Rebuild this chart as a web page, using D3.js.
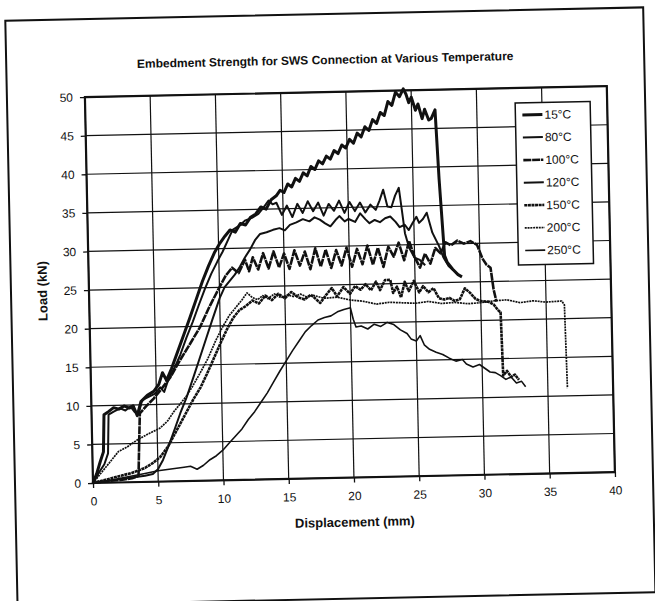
<!DOCTYPE html>
<html><head><meta charset="utf-8">
<script src="https://cdn.jsdelivr.net/npm/d3@7"></script>
<style>
body{margin:0;background:#fff}
svg{display:block}
text{font-family:"Liberation Sans",Arial,Helvetica,sans-serif;fill:#111}
</style>
</head><body>
<svg id="chart" width="655" height="601"></svg>
<script>
const titleText = "Embedment Strength for SWS Connection at Various Temperature";
const xTitle = "Displacement (mm)";
const yTitle = "Load (kN)";
const xTicks = [0,5,10,15,20,25,30,35,40];
const yTicks = [0,5,10,15,20,25,30,35,40,45,50];
const seriesNames = ["15°C","80°C","100°C","120°C","150°C","200°C","250°C"];

const s15 = [[0,0],[0.3,1.2],[0.6,2.8],[0.85,4],[0.95,8.8],[1.3,9.2],[1.7,9.7],[2.1,9.5],[2.5,9.9],[2.9,9.6],[3.2,9.9],[3.5,8.6],[3.8,10.4],[4.3,11.2],[4.8,11.7],[5.2,12.6],[5.5,14.1],[5.8,13.1],[6.2,14.6],[6.7,16.8],[7.2,19],[7.7,21.2],[8.2,23.5],[8.7,25.8],[9.2,27.8],[9.7,29.6],[10.1,30.7],[10.5,31.6],[10.9,32.4],[11.3,32.1],[11.7,33.2],[12.1,33],[12.5,34],[12.9,34.4],[13.3,35.3],[13.7,35],[14.1,36.2],[14.5,36.7],[14.8,37.4],[15.1,37.1],[15.4,38.2],[15.7,37.8],[16,38.9],[16.3,38.5],[16.6,39.6],[16.9,39.2],[17.2,40.4],[17.5,40],[17.8,41.1],[18.1,40.7],[18.4,41.7],[18.7,41.3],[19,42.4],[19.3,42],[19.6,43.1],[19.9,42.7],[20.2,43.8],[20.5,43.3],[20.8,44.6],[21.1,44.1],[21.4,45.4],[21.7,44.9],[22,46.3],[22.3,45.8],[22.6,47.2],[22.9,46.8],[23.2,48.6],[23.5,48.1],[23.8,49.8],[24.1,49.2],[24.4,50.2],[24.6,49.5],[24.8,48.4],[25,49.1],[25.3,47.4],[25.5,48.2],[25.8,46.3],[26,47.5],[26.3,46.1],[26.5,46.3],[26.8,47.4],[27.0,38.5],[27.3,28.5],[27.5,27.6],[27.9,26.7],[28.3,26],[28.6,25.7]];

const s80 = [[0,0],[0.5,1.4],[0.9,2.4],[1.2,3.8],[1.3,8.8],[1.7,9.2],[2.2,9.6],[2.6,9.3],[3.0,9.8],[3.3,9.1],[3.6,8.8],[3.9,10.6],[4.4,11],[4.9,11.4],[5.3,12.2],[5.6,11.6],[5.9,13],[6.4,14.6],[6.9,16.4],[7.4,18.6],[7.9,20.6],[8.4,22.8],[8.9,24.9],[9.4,26.8],[9.9,28.4],[10.3,29.6],[10.7,31],[11.1,32.4],[11.6,32.9],[12.1,33.6],[12.6,33.9],[13.1,34.4],[13.5,35.2],[13.9,36.1],[14.2,35.6],[14.5,35.8],[14.9,34.2],[15.3,35.4],[15.7,33.9],[16.1,35.6],[16.5,34.4],[16.9,35.9],[17.3,34.6],[17.7,35.7],[18.1,34],[18.5,35.5],[18.9,34.6],[19.3,35.9],[19.7,34.3],[20.1,35.7],[20.5,34.5],[20.9,35.6],[21.3,34.3],[21.7,35.3],[22.1,34.6],[22.4,35.8],[22.7,37.2],[23,35],[23.3,34.9],[23.6,36.4],[23.9,37.4],[24.1,34.5],[24.3,31.5],[24.6,29.6],[25,28.3],[25.4,28],[25.8,27.3]];

const s100 = [[0,0],[1,0.2],[2,0.3],[3,0.5],[3.5,0.8],[3.6,5],[3.7,8.9],[4.2,9.8],[4.8,10.8],[5.4,12],[6.1,13.5],[6.8,15.5],[7.6,17.6],[8.45,19.9],[9.2,22.5],[10,25],[10.5,26.5],[11,27.5],[11.5,26.8],[12,28.5],[12.3,27],[12.6,28.8],[13,27.2],[13.4,29.3],[13.8,27.3],[14.2,29.5],[14.6,27.4],[15,29.2],[15.4,27.2],[15.8,29.6],[16.2,27.6],[16.6,29.4],[17,27.1],[17.4,29.8],[17.8,27.4],[18.2,29.6],[18.6,27.2],[19,29.5],[19.4,27.5],[19.8,29.8],[20.2,27.3],[20.6,29.6],[21,27.6],[21.4,30],[21.8,27.5],[22.2,29.7],[22.6,27.2],[23,29.8],[23.4,28.5],[23.8,30.3],[24.2,28],[24.6,30.5],[25,28.4],[25.4,27],[25.8,28.8],[26.2,27.5],[26.6,29.5],[27,28.8],[27.4,30.2],[27.8,29.8],[28.3,30.4],[28.8,30],[29.3,30.3],[29.8,29.8],[30.2,28],[30.5,27.2],[30.8,26.8],[31,24],[31.2,22.4]];

const s120 = [[0,0],[1,0.2],[2,0.4],[3,0.6],[4,0.8],[4.6,1],[5,1.6],[5.4,2.8],[5.9,4.8],[6.4,7],[6.8,8.8],[7.3,10.8],[7.9,13.6],[8.4,16],[8.9,18.4],[9.4,20.8],[10,23.6],[10.4,25],[10.8,25.8],[11.2,26.6],[11.6,27.6],[12,28.8],[12.4,29.8],[12.8,31],[13.2,31.8],[13.7,32],[14.2,32.3],[14.7,32.5],[15.1,32.2],[15.5,32.9],[16,33.2],[16.5,33.6],[17,33.3],[17.4,33.8],[17.8,33.5],[18.2,33],[18.6,32.6],[19,33.4],[19.3,33.9],[19.7,33.2],[20,33.5],[20.5,33.1],[20.9,34.2],[21.3,33.4],[21.6,32.9],[22,33.3],[22.4,33],[22.8,33.5],[23.2,33.7],[23.6,33],[23.9,32.3],[24.3,32.6],[24.6,31.9],[24.9,32.8],[25.2,33.6],[25.4,32.8],[25.7,33.3],[26,34.1],[26.4,31.5],[26.9,29.7],[27.2,28.3],[27.6,27.1],[28,26.5]];

const s150 = [[0,0],[1,0.4],[2,0.8],[3,1.2],[4,1.8],[4.6,2.4],[5.2,3.2],[5.8,4.5],[6.3,6],[6.8,7.5],[7.3,9],[7.8,10.5],[8.4,12.1],[8.9,13.8],[9.4,15.6],[10,17.8],[10.5,19.5],[11,21],[11.5,22],[12,22.5],[12.5,23.2],[13,22.8],[13.5,23.8],[14,23.2],[14.5,24],[15,23.4],[15.5,24.2],[16,23.5],[16.5,23.2],[17,23.8],[17.7,22.7],[18.2,23.8],[18.6,24.6],[19,23.5],[19.5,24.7],[20,23.8],[20.4,24.8],[20.8,24.3],[21.2,25],[21.6,24.2],[22,25.3],[22.3,24.2],[22.7,25.5],[23.1,25.5],[23.3,23.8],[23.6,24.6],[23.9,23.2],[24.2,25.2],[24.5,24],[24.9,25.3],[25.3,23.8],[25.6,24.6],[26,23.8],[26.4,24.3],[26.8,23],[27.2,22.8],[27.6,23],[28,22.6],[28.4,22.8],[28.8,24.2],[29.2,23.6],[29.6,22.8],[30,22.5],[30.6,22.4],[31,22],[31.3,21.3],[31.5,21],[31.6,12.8],[31.9,13.4],[32.2,12.6],[32.5,12.9],[32.8,12.2]];

const s200 = [[0,0],[0.5,1],[1,2],[1.5,3],[2,4],[2.7,4.6],[3.5,5.5],[4.3,6.2],[5.2,6.9],[5.8,7.8],[6.3,9],[6.8,10],[7.3,11],[7.8,12.3],[8.4,14],[9,15.8],[9.6,18],[10.2,19.9],[10.7,21.3],[11.2,22.3],[11.7,23.3],[12.1,24.2],[12.5,23.6],[12.9,23.3],[13.3,23.8],[13.7,23.4],[14.2,24],[14.7,23.5],[15.2,23.8],[15.7,23.6],[16.2,23.9],[16.7,23.5],[17.2,23.7],[18,23.3],[19,23.4],[20,23],[21,22.8],[22,22.4],[23,22.6],[24,22.5],[25,22.4],[26,22.6],[27,22.3],[28,22.4],[29,22.2],[30,22.3],[31,22.5],[32,22.6],[33,22.2],[34,22.4],[35,22.2],[36.2,22.3],[36.4,21.8],[36.5,11]];

const s250 = [[0,0],[1,0.2],[2,0.5],[3,0.8],[4,1.1],[5,1.4],[6,1.6],[7,1.8],[7.5,1.9],[8,1.5],[8.5,2],[9,2.7],[9.5,3.2],[10,3.9],[10.5,4.8],[11,5.7],[11.5,6.6],[12,7.8],[12.5,8.8],[13,10],[13.5,11.2],[14,12.6],[14.5,14],[15,15.3],[15.5,16.6],[16,17.8],[16.5,19],[17,19.8],[17.5,20.5],[18,20.8],[18.5,21],[19,21.5],[19.5,21.8],[20,22],[20.2,20.5],[20.4,19.5],[20.8,19.6],[21.3,19.2],[21.8,19.8],[22.3,19.5],[22.8,20],[23.3,19.7],[23.8,19],[24.3,18.5],[24.6,17.8],[25.0,17.5],[25.3,18.2],[25.6,17],[26,16.4],[26.5,16],[27,15.7],[27.5,15.2],[28,14.8],[28.5,15],[28.8,14.4],[29.3,14],[29.8,14.3],[30.2,13.8],[30.6,13.3],[31,13.2],[31.4,12.8],[31.8,12.3],[32.2,12.6],[32.6,11.8],[33,12],[33.3,11.3]];

const seriesData = [s15, s80, s100, s120, s150, s200, s250];

// styles (kept separate from data)
const lineStyles = [
  {w:3.0, dash:null},
  {w:2.0, dash:null},
  {w:2.6, dash:"8,0.8"},
  {w:2.0, dash:null},
  {w:2.6, dash:"3,0.6"},
  {w:1.7, dash:"2,0.8"},
  {w:1.6, dash:null}
];

const svg = d3.select("#chart");
const ink = "#111";
const P = {left:93, top:97, w:522, h:386};

const root = svg.append("g").attr("transform", `rotate(-1.2 ${P.left} ${P.top+P.h})`);

// outer frame
root.append("rect").attr("x",15).attr("y",19).attr("width",638).attr("height",585)
  .attr("fill","none").attr("stroke",ink).attr("stroke-width",2);

// title
root.append("text").attr("x",334).attr("y",69).attr("text-anchor","middle")
  .attr("font-size",12).attr("font-weight","bold").text(titleText);

const x = d3.scaleLinear().domain([0,40]).range([P.left, P.left+P.w]);
const y = d3.scaleLinear().domain([0,50]).range([P.top+P.h, P.top]);

// grid
const grid = root.append("g");
grid.selectAll("line.v").data(xTicks).join("line").attr("class","v")
  .attr("x1",d=>x(d)).attr("x2",d=>x(d)).attr("y1",P.top).attr("y2",P.top+P.h)
  .attr("stroke",ink).attr("stroke-width",1.2);
grid.selectAll("line.h").data(yTicks).join("line").attr("class","h")
  .attr("y1",d=>y(d)).attr("y2",d=>y(d)).attr("x1",P.left).attr("x2",P.left+P.w)
  .attr("stroke",ink).attr("stroke-width",1.2);

// axes
const xAxis = d3.axisBottom(x).tickValues(xTicks).tickSize(5).tickPadding(9);
const yAxis = d3.axisLeft(y).tickValues(yTicks).tickSize(5).tickPadding(7);
const gx = root.append("g").attr("transform",`translate(0,${P.top+P.h})`).call(xAxis);
const gy = root.append("g").attr("transform",`translate(${P.left},0)`).call(yAxis);
[gx,gy].forEach(g=>{
  g.select(".domain").remove();
  g.selectAll(".tick line").attr("stroke",ink).attr("stroke-width",1.3);
  g.selectAll(".tick text").attr("font-size",12).attr("fill",ink)
    .attr("font-family",'"Liberation Sans",Arial,sans-serif');
});

// plot border
root.append("rect").attr("x",P.left).attr("y",P.top).attr("width",P.w).attr("height",P.h)
  .attr("fill","none").attr("stroke",ink).attr("stroke-width",2.2);

// axis titles
root.append("text").attr("x",x(20)).attr("y",532).attr("text-anchor","middle")
  .attr("font-size",13).attr("font-weight","bold").text(xTitle);
root.append("text").attr("transform",`translate(51,${y(25)}) rotate(-90)`)
  .attr("text-anchor","middle").attr("font-size",13).attr("font-weight","bold").text(yTitle);

// series
const line = d3.line().x(d=>x(d[0])).y(d=>y(d[1]));
const lines = root.append("g");
seriesData.forEach((data,i)=>{
  const st = lineStyles[i];
  lines.append("path").datum(data).attr("d",line)
    .attr("fill","none").attr("stroke",ink).attr("stroke-width",st.w)
    .attr("stroke-linejoin","round")
    .attr("stroke-dasharray",st.dash);
});

// legend
const L = {x:523, y:112, w:75, h:162, step:22.6};
const lg = root.append("g");
lg.append("rect").attr("x",L.x).attr("y",L.y).attr("width",L.w).attr("height",L.h)
  .attr("fill","#fff").attr("stroke",ink).attr("stroke-width",1.5);
seriesNames.forEach((name,i)=>{
  const yy = L.y + 12 + i*L.step;
  const st = lineStyles[i];
  lg.append("line").attr("x1",L.x+7).attr("x2",L.x+27).attr("y1",yy).attr("y2",yy)
    .attr("stroke",ink).attr("stroke-width",st.w).attr("stroke-dasharray",st.dash);
  lg.append("text").attr("x",L.x+29).attr("y",yy).attr("dy","0.36em")
    .attr("font-size",12).text(name);
});
</script>
</body></html>
